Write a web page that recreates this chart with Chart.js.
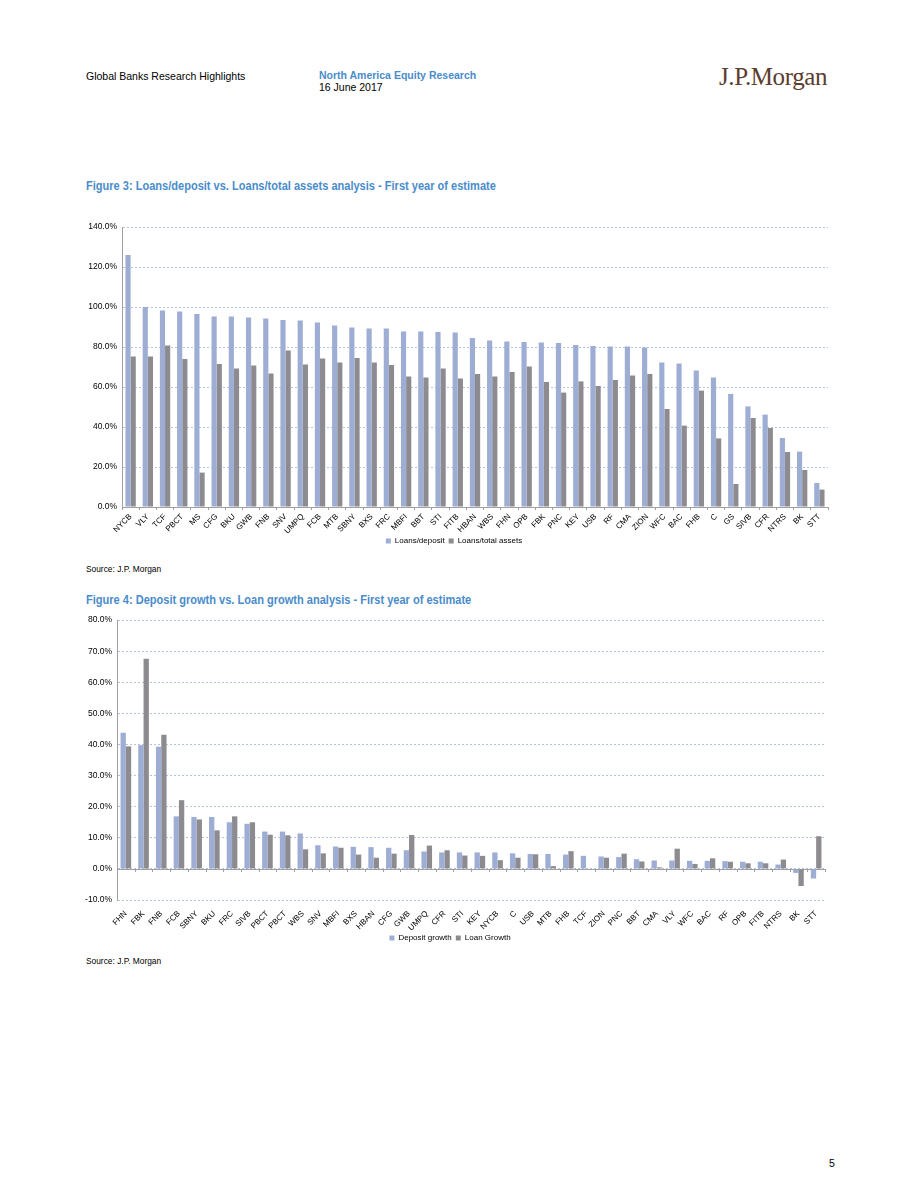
<!DOCTYPE html>
<html>
<head>
<meta charset="utf-8">
<script src="https://cdn.jsdelivr.net/npm/chart.js@4.4.0/dist/chart.umd.min.js"></script>
<style>
  body { margin: 0; background: #fff; font-family: "Liberation Sans", Arial, sans-serif; color: #000; }
  .page { position: relative; width: 920px; height: 1191px; overflow: hidden; }
  .abs { position: absolute; white-space: nowrap; }
  .hdr { font-size: 10.5px; }
  .blue { color: #4a8ccb; font-weight: bold; }
  .logo { font-family: "Liberation Serif", "DejaVu Serif", serif; font-size: 25px; color: #5c3d2e; letter-spacing: -0.4px; }
  .title { font-size: 12px; font-weight: bold; color: #4a8ccb; transform: scaleX(0.92); transform-origin: left top; }
  .src { font-size: 9.5px; transform: scaleX(0.88); transform-origin: left top; }
  canvas { position: absolute; }
</style>
</head>
<body>
<div class="page">
  <div class="abs hdr" style="left:86px; top:70px;">Global Banks Research Highlights</div>
  <div class="abs hdr blue" style="left:319px; top:69px;">North America Equity Research</div>
  <div class="abs hdr" style="left:319px; top:81px;">16 June 2017</div>
  <div class="abs logo" style="left:719px; top:63px;">J.P.Morgan</div>

  <div class="abs title" style="left:86px; top:179px;">Figure 3: Loans/deposit vs. Loans/total assets analysis - First year of estimate</div>
  <canvas id="c1" width="752" height="340" style="left:80px; top:215px;"></canvas>
  <div class="abs src" style="left:86px; top:563px;">Source: J.P. Morgan</div>

  <div class="abs title" style="left:86px; top:593px;">Figure 4: Deposit growth vs. Loan growth analysis - First year of estimate</div>
  <canvas id="c2" width="772" height="342" style="left:75px; top:610px;"></canvas>
  <div class="abs src" style="left:86px; top:955px;">Source: J.P. Morgan</div>

  <div class="abs hdr" style="left:829px; top:1157px;">5</div>
</div>

<script>
// Figure 3 data
const loanBanks = ['NYCB','VLY','TCF','PBCT','MS','CFG','BKU','GWB','FNB','SNV','UMPQ','FCB','MTB','SBNY','BXS','FRC','MBFI','BBT','STI','FITB',
  'HBAN','WBS','FHN','OPB','FBK','PNC','KEY','USB','RF','CMA','ZION','WFC','BAC','FHB','C','GS','SIVB','CFR','NTRS','BK','STT'];
const loansDeposit = [126,100,98.2,97.8,96.5,95.2,95.2,94.7,94.3,93.5,93.2,92.2,90.7,89.8,89.2,89.2,87.8,87.8,87.5,87.2,
  84.5,83.2,82.8,82.5,82.3,82,81,80.5,80.2,80.2,79.7,72.3,71.7,68.2,64.8,56.5,50.3,46.2,34.5,27.7,12];
const loansAssets = [75.3,75.2,80.7,74,17.2,71.5,69.2,70.8,66.8,78.2,71.2,74.2,72.2,74.5,72.2,71,65.2,64.7,69.2,64.2,
  66.5,65.2,67.5,70.2,62.5,57.2,62.8,60.5,63.5,65.8,66.5,49,40.7,58.2,34.3,11.5,44.5,39.5,27.5,18.5,8.7];

// Figure 4 data
const growthBanks = ['FHN','FBK','FNB','FCB','SBNY','BKU','FRC','SIVB','PBCT','PBCT','WBS','SNV','MBFI','BXS','HBAN','CFG','GWB','UMPQ','CFR',
  'STI','KEY','NYCB','C','USB','MTB','FHB','TCF','ZION','PNC','BBT','CMA','VLY','WFC','BAC','RF','OPB','FITB','NTRS','BK','STT'];
const depositGrowth = [43.8,39.8,39.3,16.9,16.7,16.7,15,14.5,12,12,11.4,7.6,7.2,7.1,7,6.8,6,5.6,5.3,
  5.3,5.3,5.3,5,4.8,4.8,4.6,4.2,4,3.8,3.1,2.7,2.7,2.6,2.6,2.5,2.3,2.3,1.4,-1.3,-3.1];
const loanGrowth = [39.4,67.6,43.1,22.1,15.9,12.4,16.9,15,11,10.8,6.3,5,6.8,4.6,3.6,4.9,10.9,7.5,6,
  4.3,4.2,2.8,3.6,4.7,0.9,5.7,0,3.6,4.9,2.4,0.5,6.5,1.6,3.4,2.3,1.8,1.8,3,-5.5,10.5];

const BLUE = '#9dadd3';
const GREY = '#8d8b8f';
const GRID = '#b5c3e2';
const AXIS = '#a0a0a0';
const tickFont = { family: 'Liberation Sans', size: 8 };

const pct = v => v.toFixed(1) + '%';

// zero line with small category ticks (figure 4 axis crosses at 0)
const zeroAxis = {
  id: 'zeroAxis',
  beforeDatasetsDraw(chart) {
    const x = chart.scales.x, y = chart.scales.y, ctx = chart.ctx;
    const y0 = Math.round(y.getPixelForValue(0));
    const n = chart.data.labels.length;
    const w = x.width / n;
    ctx.save();
    ctx.strokeStyle = AXIS;
    ctx.lineWidth = 1;
    ctx.beginPath();
    ctx.moveTo(x.left, y0 + 0.5);
    ctx.lineTo(x.right, y0 + 0.5);
    for (let i = 0; i <= n; i++) {
      const px = Math.round(x.left + i * w) + 0.5;
      ctx.moveTo(px, y0);
      ctx.lineTo(px, y0 + 3);
    }
    ctx.stroke();
    ctx.restore();
  }
};

function legendOpts() {
  return {
    position: 'bottom',
    labels: { boxWidth: 5, boxHeight: 5, padding: 4, color: '#000', font: { family: 'Liberation Sans', size: 8 } }
  };
}

new Chart(document.getElementById('c1'), {
  type: 'bar',
  data: {
    labels: loanBanks,
    datasets: [
      { label: 'Loans/deposit', data: loansDeposit, backgroundColor: BLUE },
      { label: 'Loans/total assets', data: loansAssets, backgroundColor: GREY }
    ]
  },
  options: {
    responsive: false,
    animation: false,
    layout: { padding: { top: 12, right: 4 } },
    datasets: { bar: { categoryPercentage: 0.6, barPercentage: 1 } },
    plugins: { legend: legendOpts(), tooltip: { enabled: false } },
    scales: {
      x: {
        grid: { drawOnChartArea: false, tickLength: 3, color: AXIS },
        border: { color: AXIS },
        ticks: { minRotation: 45, maxRotation: 45, autoSkip: false, padding: 2, color: '#000', font: tickFont },
        afterFit(s) { s.height = 26; }
      },
      y: {
        min: 0, max: 140,
        ticks: { stepSize: 20, callback: pct, padding: 5, color: '#000', font: { family: 'Liberation Sans', size: 8.5 } },
        grid: { color: GRID, drawTicks: false },
        border: { color: AXIS, dash: [2, 2] },
        afterFit(s) { s.width = 42; }
      }
    }
  }
});

new Chart(document.getElementById('c2'), {
  type: 'bar',
  data: {
    labels: growthBanks,
    datasets: [
      { label: 'Deposit growth', data: depositGrowth, backgroundColor: BLUE },
      { label: 'Loan Growth', data: loanGrowth, backgroundColor: GREY }
    ]
  },
  options: {
    responsive: false,
    animation: false,
    layout: { padding: { top: 10, right: 22 } },
    datasets: { bar: { categoryPercentage: 0.6, barPercentage: 1 } },
    plugins: { legend: legendOpts(), tooltip: { enabled: false } },
    scales: {
      x: {
        grid: { display: false },
        border: { display: false },
        ticks: { minRotation: 45, maxRotation: 45, autoSkip: false, padding: 1, color: '#000', font: tickFont },
        afterFit(s) { s.height = 30; }
      },
      y: {
        min: -10, max: 80,
        ticks: { stepSize: 10, callback: pct, padding: 5, color: '#000', font: { family: 'Liberation Sans', size: 8.5 } },
        grid: { color: GRID, drawTicks: false },
        border: { color: AXIS, dash: [2, 2] },
        afterFit(s) { s.width = 42; }
      }
    }
  },
  plugins: [zeroAxis]
});
</script>
</body>
</html>
